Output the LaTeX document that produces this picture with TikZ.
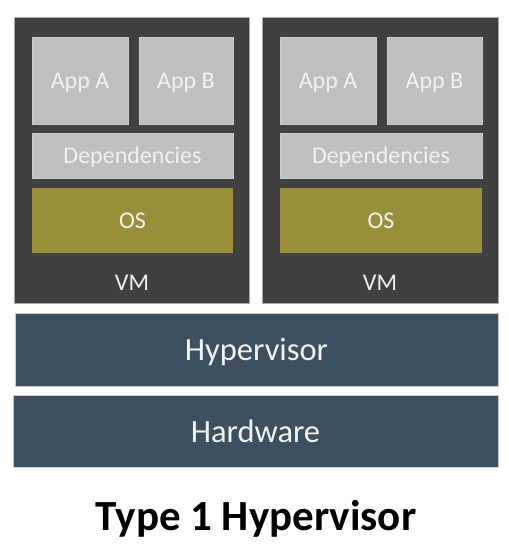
\documentclass[tikz,border=0pt]{standalone}
\usepackage{fontspec}
\setmainfont{Carlito}
\usepackage{tikz}
\definecolor{vmgray}{RGB}{64,64,64}
\definecolor{appgray}{RGB}{191,191,191}
\definecolor{osolive}{RGB}{153,143,59}
\definecolor{hvslate}{RGB}{61,80,96}
\definecolor{lighttext}{RGB}{242,242,242}
\tikzstyle{vm} = [rectangle, draw=gray!70, fill=vmgray, inner sep=0pt, minimum width=235pt, minimum height=286pt]
\tikzstyle{app} = [rectangle, draw=gray!40, fill=appgray, text=lighttext, inner sep=0pt, text depth=0pt, font=\fontsize{24}{28}\selectfont]
\tikzstyle{os} = [rectangle, fill=osolive, text=lighttext, inner sep=0pt, minimum width=201pt, minimum height=65pt, font=\fontsize{24}{28}\selectfont]
\tikzstyle{vmlabel} = [text=lighttext, font=\fontsize{24}{28}\selectfont]
\tikzstyle{layer} = [rectangle, draw=gray!40, fill=hvslate, text=lighttext, inner sep=0pt, text depth=0pt, minimum width=484pt, minimum height=72pt, font=\fontsize{32.5}{38}\selectfont]

\begin{document}
\begin{tikzpicture}[x=1pt, y=-1pt]
    \useasboundingbox (0,0) rectangle (508,548);
    \node [vm] (vmleft) at (132,160) {};
    \node [vm, minimum width=236pt] (vmright) at (380,160) {};

    \node [app, minimum width=96pt, minimum height=87pt] (appaleft) at (80,80.5) {App A};
    \node [app, minimum width=94pt, minimum height=87pt] (appbleft) at (186,80.5) {App B};
    \node [app, minimum width=201pt, minimum height=45pt] (depsleft) at (132.5,155.5) {Dependencies};
    \node [os] (osleft) at (132.5,220.5) {OS};
    \node [vmlabel] (vmleftlabel) at (132,283) {VM};

    \node [app, minimum width=96pt, minimum height=87pt] (apparight) at (328,80.5) {App A};
    \node [app, minimum width=95pt, minimum height=87pt] (appbright) at (434.5,80.5) {App B};
    \node [app, minimum width=202pt, minimum height=45pt] (depsright) at (381,155.5) {Dependencies};
    \node [os, minimum width=202pt] (osright) at (381,220.5) {OS};
    \node [vmlabel] (vmrightlabel) at (380,283) {VM};

    \node [layer, minimum width=483pt, minimum height=73pt] (hypervisor) at (256.5,349.5) {Hypervisor};
    \node [layer, minimum width=485pt] (hardware) at (255.5,431) {Hardware};

    \node [anchor=base, font=\fontsize{43}{50}\selectfont\bfseries] (title) at (256,530) {Type 1 Hypervisor};
\end{tikzpicture}
\end{document}
